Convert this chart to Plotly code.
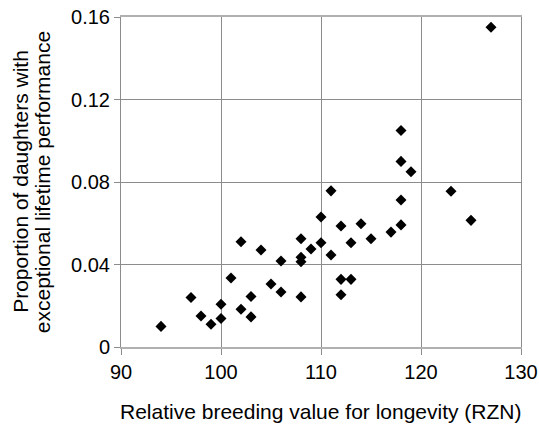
import plotly.graph_objects as go

rzn = [94, 97, 98, 99, 100, 100, 101, 102, 102, 103, 103, 104, 105, 106, 106,
       108, 108, 108, 108, 109, 110, 110, 111, 111, 112, 112, 112, 113, 113,
       114, 115, 117, 118, 118, 118, 118, 119, 123, 125, 127]
proportion = [0.010, 0.024, 0.015, 0.011, 0.0207, 0.0138, 0.0335, 0.051, 0.0183,
              0.0245, 0.0146, 0.047, 0.0305, 0.0417, 0.0267, 0.0525, 0.0435,
              0.0413, 0.0243, 0.0475, 0.063, 0.0505, 0.0757, 0.0446, 0.0587,
              0.0328, 0.0253, 0.0505, 0.0328, 0.0598, 0.0525, 0.0557, 0.105,
              0.090, 0.0713, 0.0592, 0.085, 0.0755, 0.0614, 0.155]

x_ticks = [90, 100, 110, 120, 130]
y_ticks = [0, 0.04, 0.08, 0.12, 0.16]
y_labels = ["0", "0.04", "0.08", "0.12", "0.16"]

x_title = "Relative breeding value for longevity (RZN)"
y_title_lines = ["Proportion of daughters with", "exceptional lifetime performance"]

font = "Liberation Sans, Arial, sans-serif"
grid = "#8c8c8c"

fig = go.Figure(go.Scatter(
    x=rzn, y=proportion, mode="markers",
    marker=dict(symbol="diamond", size=8.5, color="black", line=dict(width=0)),
))

fig.update_layout(
    width=539, height=424,
    margin=dict(l=121, r=18, t=17, b=77),
    paper_bgcolor="white", plot_bgcolor="white",
    showlegend=False,
    font=dict(family=font, size=20, color="black"),
    xaxis=dict(
        range=[90, 130], tickvals=x_ticks, ticks="outside", ticklen=6,
        tickcolor=grid, showgrid=True, gridcolor=grid, gridwidth=1,
        showline=True, linecolor="#b0b0b0", linewidth=1.5, mirror=True,
        zeroline=False, automargin=False, ticklabeloverflow="allow",
        tickfont=dict(size=20),
    ),
    yaxis=dict(
        range=[0, 0.16], tickvals=y_ticks, ticktext=y_labels, ticks="outside",
        ticklen=6, tickcolor=grid, showgrid=True, gridcolor=grid, gridwidth=1,
        showline=True, linecolor=grid, mirror=True, zeroline=False,
        automargin=False, ticklabeloverflow="allow", tickfont=dict(size=20),
    ),
    annotations=[
        dict(text=x_title, xref="paper", yref="paper", x=0.5, y=-0.194,
             xanchor="center", yanchor="middle", showarrow=False,
             font=dict(size=21)),
        dict(text=y_title_lines[0], xref="paper", yref="paper", x=-0.253, y=0.503,
             xanchor="center", yanchor="middle", showarrow=False,
             textangle=-90, font=dict(size=21)),
        dict(text=y_title_lines[1], xref="paper", yref="paper", x=-0.197, y=0.5,
             xanchor="center", yanchor="middle", showarrow=False,
             textangle=-90, font=dict(size=21)),
    ],
)

fig.write_html(
    "out.html",
    config={"displayModeBar": False},
    post_script="document.body.style.margin='0';document.body.style.overflow='hidden';",
)
